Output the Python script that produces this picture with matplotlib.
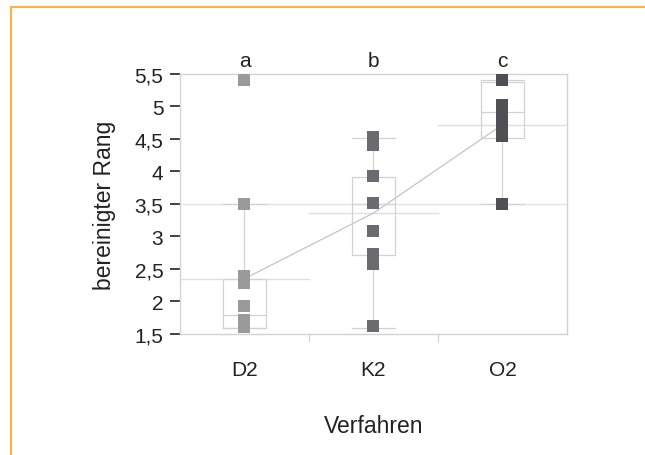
import matplotlib
matplotlib.use('Agg')
import matplotlib.pyplot as plt
from matplotlib.patches import Rectangle

plt.rcParams['font.family'] = ['Liberation Sans', 'DejaVu Sans']

# data
groups = ['D2', 'K2', 'O2']
letters = ['a', 'b', 'c']
d2 = [5.41, 3.5, 2.39, 2.28, 1.93, 1.71, 1.61]
k2 = [4.53, 4.41, 3.93, 3.52, 3.08, 2.73, 2.57, 1.62]
o2 = [5.4, 5.03, 4.85, 4.67, 4.55, 3.5]
points = [d2, k2, o2]

q1 = [1.59, 2.72, 4.52]
med = [1.79, 3.5, 4.92]
q3 = [2.35, 3.92, 5.38]
wlo = [1.59, 1.59, 3.5]
whi = [3.5, 4.52, 5.4]

group_means = [2.35, 3.36, 4.72]
grand_mean = 3.5

y_ticks = [1.5, 2, 2.5, 3, 3.5, 4, 4.5, 5, 5.5]
y_labels = ['1,5', '2', '2,5', '3', '3,5', '4', '4,5', '5', '5,5']

colors = ['#9a9a9a', '#6a6a70', '#4f4f55']
light = '#d2d2d2'

fig = plt.figure(figsize=(6.45, 4.56), dpi=100)
ax = fig.add_axes([0.279, 0.2654, 0.600, 0.5702])

xpos = [0.5, 1.5, 2.5]

# grand mean line and group mean lines
ax.axhline(grand_mean, color='#e4e4e4', lw=1, zorder=1)
for i, m in enumerate(group_means):
    ax.plot([i, i + 1], [m, m], color='#e0e0e0', lw=1, zorder=1)
ax.plot(xpos, group_means, color='#c4c4c4', lw=0.9, zorder=2)

stats = []
for i in range(3):
    stats.append({'q1': q1[i], 'med': med[i], 'q3': q3[i],
                  'whislo': wlo[i], 'whishi': whi[i], 'fliers': []})
lp = dict(color=light, lw=0.9)
ax.bxp(stats, positions=xpos, widths=0.34, capwidths=[0.34] * 3,
       showfliers=False, boxprops=lp, whiskerprops=lp, capprops=lp,
       medianprops=lp, manage_ticks=False, zorder=2)

for i, vals in enumerate(points):
    ax.plot([xpos[i]] * len(vals), vals, 's', color=colors[i],
            markersize=8.5, markeredgewidth=0, zorder=3)

for i, t in enumerate(letters):
    ax.text(xpos[i], 1.031, t, transform=ax.get_xaxis_transform(),
            ha='center', va='baseline', fontsize=15, color='#222222')

ax.set_xlim(0, 3)
ax.set_ylim(1.5, 5.5)
ax.set_yticks(y_ticks)
ax.set_yticklabels(y_labels)
ax.set_xticks(xpos)
ax.set_xticklabels(groups)
ax.set_xticks([1, 2], minor=True)

ax.tick_params(axis='y', length=7, width=1.2, color='#222222', pad=5,
               labelsize=15, labelcolor='#222222')
ax.tick_params(axis='x', which='major', length=0, pad=19,
               labelsize=15, labelcolor='#222222')
ax.tick_params(axis='x', which='minor', length=6, width=0.9, color=light)

for s in ax.spines.values():
    s.set_color(light)
    s.set_linewidth(1)

ax.set_xlabel('Verfahren', fontsize=16.5, color='#222222', labelpad=25)
ax.set_ylabel('bereinigter Rang', fontsize=16.5, color='#222222', labelpad=13)

# orange frame around the chart
fig.add_artist(Rectangle((10.5 / 645, -0.2), 1.5, 1.2 - 7.5 / 456,
                         transform=fig.transFigure, fill=False,
                         edgecolor='#f6b443', lw=1.5))

fig.savefig('out.png', dpi=100)
